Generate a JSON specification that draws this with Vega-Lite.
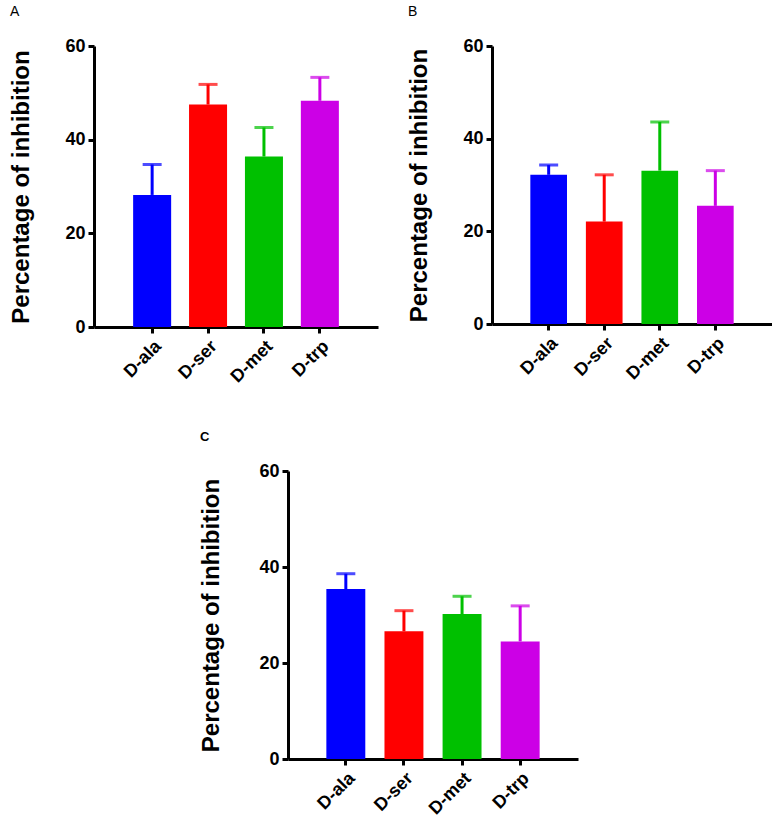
{
  "$schema": "https://vega.github.io/schema/vega-lite/v6.json",
  "background": "white",
  "padding": {"left": 9, "top": 5, "right": 0, "bottom": 0},
  "config": {
    "font": "Liberation Sans",
    "view": {"stroke": null},
    "title": {"fontSize": 14, "fontWeight": "normal", "anchor": "start", "color": "black", "offset": 18},
    "axis": {
      "domainColor": "black", "domainWidth": 3, "tickColor": "black", "tickWidth": 3, "tickSize": 6,
      "labelColor": "black", "labelFont": "Liberation Sans", "labelFontWeight": "bold", "labelFontSize": 18,
      "titleColor": "black", "titleFont": "Liberation Sans", "titleFontWeight": "bold", "titleFontSize": 24,
      "grid": false
    }
  },
  "datasets": {
    "a": [
      {"aa": "D-ala", "mean": 28.2, "upper": 34.7},
      {"aa": "D-ser", "mean": 47.5, "upper": 51.8},
      {"aa": "D-met", "mean": 36.4, "upper": 42.6},
      {"aa": "D-trp", "mean": 48.3, "upper": 53.3}
    ],
    "b": [
      {"aa": "D-ala", "mean": 32.2, "upper": 34.3},
      {"aa": "D-ser", "mean": 22.1, "upper": 32.2},
      {"aa": "D-met", "mean": 33.1, "upper": 43.6},
      {"aa": "D-trp", "mean": 25.5, "upper": 33.1}
    ],
    "c": [
      {"aa": "D-ala", "mean": 35.4, "upper": 38.6},
      {"aa": "D-ser", "mean": 26.6, "upper": 30.9},
      {"aa": "D-met", "mean": 30.2, "upper": 33.9},
      {"aa": "D-trp", "mean": 24.5, "upper": 31.9}
    ]
  },
  "vconcat": [
    {
      "hconcat": [
        {
          "title": "A",
          "width": 284, "height": 281,
          "data": {"name": "a"},
          "encoding": {
            "x": {"field": "aa", "type": "nominal", "sort": null,
                  "scale": {"paddingInner": 0.32, "paddingOuter": 0.7},
                  "axis": {"title": null, "labelAngle": -45, "labelPadding": 4}},
            "color": {"field": "aa", "type": "nominal", "legend": null,
                      "scale": {"domain": ["D-ala", "D-ser", "D-met", "D-trp"], "range": ["#0000FF", "#FF0000", "#00C000", "#CC00E6"]}}
          },
          "layer": [
            {"mark": {"type": "rule", "strokeWidth": 3},
             "encoding": {"y": {"field": "mean", "type": "quantitative"}, "y2": {"field": "upper"}}},
            {"mark": {"type": "tick", "size": 19, "thickness": 3},
             "encoding": {"y": {"field": "upper", "type": "quantitative"}}},
            {"mark": {"type": "bar"},
             "encoding": {"y": {"field": "mean", "type": "quantitative",
                                "scale": {"domain": [0, 60], "nice": false},
                                "axis": {"title": "Percentage of inhibition", "values": [0, 20, 40, 60], "titlePadding": 31, "labelPadding": 3}}}}
          ]
        },
        {
          "title": "B",
          "width": 280, "height": 278,
          "data": {"name": "b"},
          "encoding": {
            "x": {"field": "aa", "type": "nominal", "sort": null,
                  "scale": {"paddingInner": 0.34, "paddingOuter": 0.69},
                  "axis": {"title": null, "labelAngle": -45, "labelPadding": 4}},
            "color": {"field": "aa", "type": "nominal", "legend": null,
                      "scale": {"domain": ["D-ala", "D-ser", "D-met", "D-trp"], "range": ["#0000FF", "#FF0000", "#00C000", "#CC00E6"]}}
          },
          "layer": [
            {"mark": {"type": "rule", "strokeWidth": 3},
             "encoding": {"y": {"field": "mean", "type": "quantitative"}, "y2": {"field": "upper"}}},
            {"mark": {"type": "tick", "size": 19, "thickness": 3},
             "encoding": {"y": {"field": "upper", "type": "quantitative"}}},
            {"mark": {"type": "bar"},
             "encoding": {"y": {"field": "mean", "type": "quantitative",
                                "scale": {"domain": [0, 60], "nice": false},
                                "axis": {"title": "Percentage of inhibition", "values": [0, 20, 40, 60], "titlePadding": 31, "labelPadding": 3}}}}
          ]
        }
      ],
      "spacing": 29
    },
    {
      "title": {"text": "C", "fontWeight": "bold", "fontSize": 13},
      "width": 290, "height": 288,
      "data": {"name": "c"},
      "encoding": {
        "x": {"field": "aa", "type": "nominal", "sort": null,
              "scale": {"paddingInner": 0.33, "paddingOuter": 0.66},
              "axis": {"title": null, "labelAngle": -45, "labelPadding": 4}},
        "color": {"field": "aa", "type": "nominal", "legend": null,
                  "scale": {"domain": ["D-ala", "D-ser", "D-met", "D-trp"], "range": ["#0000FF", "#FF0000", "#00C000", "#CC00E6"]}}
      },
      "layer": [
        {"mark": {"type": "rule", "strokeWidth": 3},
         "encoding": {"y": {"field": "mean", "type": "quantitative"}, "y2": {"field": "upper"}}},
        {"mark": {"type": "tick", "size": 19, "thickness": 3},
         "encoding": {"y": {"field": "upper", "type": "quantitative"}}},
        {"mark": {"type": "bar"},
         "encoding": {"y": {"field": "mean", "type": "quantitative",
                            "scale": {"domain": [0, 60], "nice": false},
                            "axis": {"title": "Percentage of inhibition", "values": [0, 20, 40, 60], "titlePadding": 35, "labelPadding": 3}}}}
      ]
    }
  ],
  "spacing": 45,
  "center": true,
  "resolve": {"scale": {"x": "independent", "y": "independent"}}
}
